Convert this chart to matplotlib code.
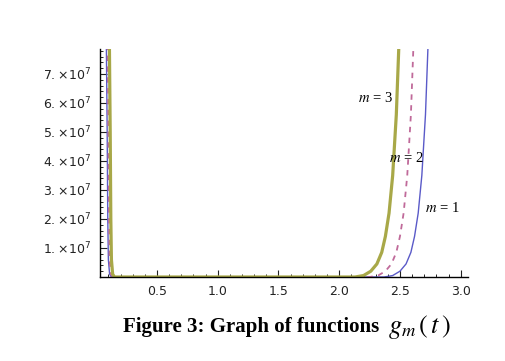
import matplotlib.pyplot as plt
import matplotlib.ticker as mticker
import numpy as np

# curves (t, g_m(t))
t_m1 = [0.08, 0.09, 0.095, 0.10, 0.11, 0.125, 0.5, 1.0, 1.5, 2.0, 2.37, 2.44, 2.50, 2.55, 2.59, 2.62, 2.65, 2.68, 2.71, 2.74]
g_m1 = [9.5e7, 5.0e7, 2.0e7, 0.6e7, 0.1e7, 0.0, 0.0, 0.0, 0.0, 0.0, 0.0, 0.05e7, 0.2e7, 0.45e7, 0.85e7, 1.4e7, 2.2e7, 3.5e7, 5.6e7, 9.0e7]

t_m2 = [0.09, 0.10, 0.105, 0.11, 0.12, 0.135, 0.5, 1.0, 1.5, 2.0, 2.25, 2.32, 2.38, 2.43, 2.47, 2.50, 2.53, 2.56, 2.59, 2.62]
g_m2 = [9.5e7, 5.0e7, 2.0e7, 0.6e7, 0.1e7, 0.0, 0.0, 0.0, 0.0, 0.0, 0.0, 0.05e7, 0.2e7, 0.45e7, 0.85e7, 1.4e7, 2.2e7, 3.5e7, 5.6e7, 9.0e7]

t_m3 = [0.105, 0.115, 0.120, 0.125, 0.135, 0.15, 0.5, 1.0, 1.5, 2.0, 2.13, 2.20, 2.26, 2.31, 2.35, 2.38, 2.41, 2.44, 2.47, 2.50]
g_m3 = [9.5e7, 5.0e7, 2.0e7, 0.6e7, 0.1e7, 0.0, 0.0, 0.0, 0.0, 0.0, 0.0, 0.05e7, 0.2e7, 0.45e7, 0.85e7, 1.4e7, 2.2e7, 3.5e7, 5.6e7, 9.0e7]

y_ticks = [1e7, 2e7, 3e7, 4e7, 5e7, 6e7, 7e7]
y_labels = [r'$%d.\!\times\!10^{7}$' % k for k in range(1, 8)]
x_ticks = [0.5, 1.0, 1.5, 2.0, 2.5, 3.0]

fig = plt.figure(figsize=(5.05, 3.61), dpi=100)
ax = fig.add_axes([100 / 505, 84 / 361, 368 / 505, 228 / 361])

ax.plot(t_m1, g_m1, color='#5a5ac8', lw=1.0)
ax.plot(t_m2, g_m2, color='#c06a9a', lw=1.3, dashes=(3, 3))
ax.plot(t_m3, g_m3, color='#a8a848', lw=2.3)

ax.set_xlim(0.031, 3.06)
ax.set_ylim(0, 7.86e7)

for s in ['top', 'right']:
    ax.spines[s].set_visible(False)
for s in ['left', 'bottom']:
    ax.spines[s].set_linewidth(1.0)

ax.set_xticks(x_ticks)
ax.set_xticklabels(['%.1f' % v for v in x_ticks])
ax.xaxis.set_minor_locator(mticker.MultipleLocator(0.1))
ax.set_yticks(y_ticks)
ax.set_yticklabels(y_labels)
ax.yaxis.set_minor_locator(mticker.MultipleLocator(0.2e7))
ax.tick_params(which='major', direction='in', length=5, width=0.8, labelsize=9, colors='#222222', pad=6)
ax.tick_params(which='minor', direction='in', length=2.5, width=0.6)

lab = dict(fontsize=10.5, family='Liberation Serif', math_fontfamily='stix', ha='center', va='center')
ax.text(2.30, 6.17e7, r'$m$ = 3', **lab)
ax.text(2.55, 4.1e7, r'$m$ = 2', **lab)
ax.text(2.85, 2.38e7, r'$m$ = 1', **lab)

fig.text(123 / 505, 1 - 327 / 361, 'Figure 3: Graph of functions', fontsize=15,
         family='Liberation Serif', weight='bold', ha='left', va='center')
fig.text(388 / 505, 1 - 327 / 361, r'$g_m\,(\,t\,)$', fontsize=19,
         math_fontfamily='stix', ha='left', va='center')

plt.savefig('out.png', dpi=100)
